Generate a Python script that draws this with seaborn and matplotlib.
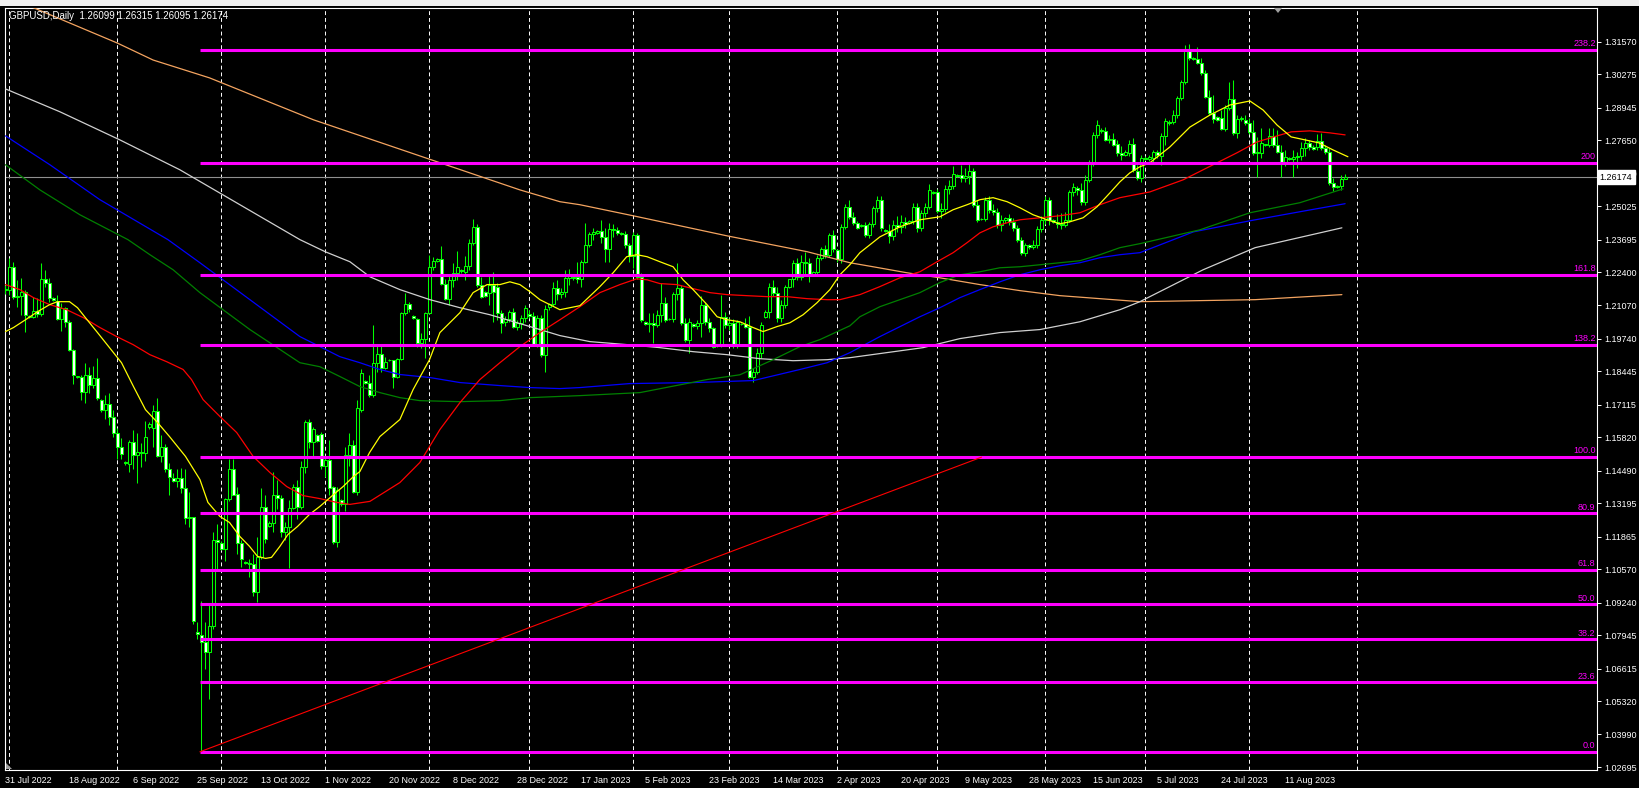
import numpy as np
import pandas as pd
import seaborn as sns
import matplotlib.pyplot as plt
from matplotlib.patches import Polygon, Rectangle

# GBPUSD daily bars, 31 Jul 2022 .. 29 Aug 2023 (broker feed with Sunday bars)
opens = [
    1.2170, 1.2170, 1.2261, 1.2142, 1.2146, 1.2162, 1.2066, 1.2062, 1.2086, 1.2074,
    1.2213, 1.2198, 1.2138, 1.2126, 1.2054, 1.2098, 1.2042, 1.1931, 1.1824, 1.1824,
    1.1764, 1.1832, 1.1792, 1.1820, 1.1732, 1.1692, 1.1716, 1.1661, 1.1601, 1.1545,
    1.1482, 1.1474, 1.1565, 1.1513, 1.1525, 1.1521, 1.1625, 1.1621, 1.1688, 1.1506,
    1.1545, 1.1454, 1.1422, 1.1410, 1.1422, 1.1382, 1.1259, 1.1263, 1.0806, 1.0794,
    1.0766, 1.0726, 1.0829, 1.1175, 1.1163, 1.1136, 1.1338, 1.1454, 1.1358, 1.1163,
    1.1084, 1.1080, 1.1076, 1.0965, 1.1104, 1.1303, 1.1227, 1.1239, 1.1354, 1.1342,
    1.1207, 1.1223, 1.1299, 1.1386, 1.1303, 1.1462, 1.1641, 1.1565, 1.1593, 1.1597,
    1.1466, 1.1490, 1.1386, 1.1167, 1.1334, 1.1315, 1.1513, 1.1553, 1.1366, 1.1692,
    1.1808, 1.1800, 1.1752, 1.1879, 1.1915, 1.1859, 1.1891, 1.1891, 1.1824, 1.1895,
    1.2078, 1.2114, 1.2066, 1.2054, 1.1959, 1.1975, 1.2078, 1.2261, 1.2285, 1.2293,
    1.2194, 1.2134, 1.2209, 1.2237, 1.2249, 1.2241, 1.2265, 1.2357, 1.2420, 1.2190,
    1.2162, 1.2158, 1.2190, 1.2182, 1.2078, 1.2042, 1.2054, 1.2082, 1.2023, 1.2038,
    1.2058, 1.2074, 1.2066, 1.1955, 1.2058, 1.1911, 1.2102, 1.2114, 1.2178, 1.2154,
    1.2162, 1.2217, 1.2217, 1.2221, 1.2213, 1.2281, 1.2349, 1.2392, 1.2396, 1.2404,
    1.2380, 1.2333, 1.2412, 1.2408, 1.2396, 1.2392, 1.2349, 1.2305, 1.2388, 1.2221,
    1.2042, 1.2034, 1.2038, 1.2030, 1.2070, 1.2118, 1.2054, 1.2054, 1.2154, 1.2178,
    1.2038, 1.1971, 1.2034, 1.2026, 1.2038, 1.2110, 1.2042, 1.2019, 1.1951, 1.1951,
    1.2062, 1.2030, 1.2038, 1.1951, 1.2034, 1.2034, 1.2023, 1.1824, 1.1844, 1.1919,
    1.2062, 1.2082, 1.2182, 1.2158, 1.2058, 1.2110, 1.2182, 1.2213, 1.2277, 1.2221,
    1.2281, 1.2277, 1.2229, 1.2241, 1.2297, 1.2333, 1.2309, 1.2388, 1.2329, 1.2293,
    1.2420, 1.2500, 1.2460, 1.2436, 1.2424, 1.2428, 1.2388, 1.2432, 1.2496, 1.2528,
    1.2408, 1.2404, 1.2384, 1.2428, 1.2420, 1.2440, 1.2436, 1.2444, 1.2500, 1.2416,
    1.2476, 1.2500, 1.2555, 1.2559, 1.2484, 1.2492, 1.2571, 1.2583, 1.2623, 1.2627,
    1.2615, 1.2623, 1.2643, 1.2508, 1.2452, 1.2452, 1.2528, 1.2488, 1.2480, 1.2428,
    1.2448, 1.2456, 1.2440, 1.2416, 1.2369, 1.2317, 1.2349, 1.2341, 1.2349, 1.2412,
    1.2448, 1.2528, 1.2448, 1.2440, 1.2432, 1.2428, 1.2448, 1.2559, 1.2575, 1.2567,
    1.2520, 1.2607, 1.2671, 1.2786, 1.2806, 1.2802, 1.2766, 1.2770, 1.2750, 1.2715,
    1.2707, 1.2715, 1.2750, 1.2643, 1.2615, 1.2694, 1.2690, 1.2694, 1.2718, 1.2703,
    1.2782, 1.2838, 1.2838, 1.2866, 1.2933, 1.2997, 1.3128, 1.3092, 1.3088, 1.3072,
    1.3033, 1.2937, 1.2874, 1.2858, 1.2854, 1.2810, 1.2893, 1.2929, 1.2794, 1.2850,
    1.2846, 1.2834, 1.2798, 1.2715, 1.2715, 1.2746, 1.2746, 1.2782, 1.2746, 1.2718,
    1.2671, 1.2694, 1.2690, 1.2699, 1.2703, 1.2734, 1.2754, 1.2738, 1.2738, 1.2762,
    1.2734, 1.2718, 1.2595, 1.2583, 1.2583, 1.26099,
]
highs = [
    1.2190, 1.2297, 1.2281, 1.2209, 1.2217, 1.2170, 1.2070, 1.2142, 1.2138, 1.2277,
    1.2249, 1.2217, 1.2142, 1.2150, 1.2118, 1.2102, 1.2050, 1.1935, 1.1828, 1.1832,
    1.1879, 1.1863, 1.1867, 1.1899, 1.1736, 1.1752, 1.1760, 1.1692, 1.1621, 1.1581,
    1.1486, 1.1573, 1.1613, 1.1601, 1.1561, 1.1645, 1.1641, 1.1712, 1.1740, 1.1593,
    1.1557, 1.1478, 1.1438, 1.1454, 1.1458, 1.1454, 1.1366, 1.1263, 1.0845, 1.0929,
    1.0845, 1.0917, 1.1207, 1.1235, 1.1168, 1.1342, 1.1494, 1.1494, 1.1386, 1.1175,
    1.1088, 1.1096, 1.1116, 1.1187, 1.1382, 1.1354, 1.1247, 1.1442, 1.1414, 1.1354,
    1.1243, 1.1334, 1.1398, 1.1414, 1.1486, 1.1649, 1.1653, 1.1625, 1.1597, 1.1605,
    1.1502, 1.1573, 1.1390, 1.1386, 1.1338, 1.1545, 1.1601, 1.1573, 1.1732, 1.1852,
    1.1812, 1.1832, 1.2030, 1.1951, 1.1951, 1.1903, 1.1895, 1.1891, 1.1899, 1.2082,
    1.2158, 1.2122, 1.2070, 1.2058, 1.1999, 1.2082, 1.2309, 1.2301, 1.2297, 1.2345,
    1.2213, 1.2229, 1.2277, 1.2325, 1.2253, 1.2305, 1.2372, 1.2452, 1.2432, 1.2222,
    1.2166, 1.2225, 1.2241, 1.2198, 1.2090, 1.2066, 1.2090, 1.2098, 1.2050, 1.2070,
    1.2110, 1.2090, 1.2082, 1.2070, 1.2070, 1.2110, 1.2118, 1.2201, 1.2209, 1.2178,
    1.2249, 1.2253, 1.2225, 1.2281, 1.2289, 1.2436, 1.2400, 1.2416, 1.2408, 1.2448,
    1.2416, 1.2436, 1.2432, 1.2420, 1.2400, 1.2404, 1.2357, 1.2400, 1.2396, 1.2237,
    1.2046, 1.2078, 1.2078, 1.2090, 1.2198, 1.2142, 1.2058, 1.2162, 1.2277, 1.2190,
    1.2058, 1.2058, 1.2038, 1.2050, 1.2146, 1.2122, 1.2058, 1.2023, 1.1955, 1.2150,
    1.2082, 1.2058, 1.2054, 1.2050, 1.2038, 1.2058, 1.2066, 1.1859, 1.1939, 1.2042,
    1.2090, 1.2198, 1.2209, 1.2182, 1.2130, 1.2190, 1.2213, 1.2289, 1.2297, 1.2309,
    1.2321, 1.2297, 1.2245, 1.2309, 1.2341, 1.2349, 1.2396, 1.2408, 1.2333, 1.2432,
    1.2512, 1.2528, 1.2480, 1.2444, 1.2432, 1.2440, 1.2440, 1.2504, 1.2544, 1.2544,
    1.2412, 1.2432, 1.2448, 1.2464, 1.2468, 1.2460, 1.2448, 1.2516, 1.2516, 1.2488,
    1.2516, 1.2591, 1.2563, 1.2571, 1.2516, 1.2587, 1.2607, 1.2663, 1.2631, 1.2667,
    1.2655, 1.2679, 1.2655, 1.2528, 1.2456, 1.2540, 1.2544, 1.2512, 1.2496, 1.2468,
    1.2460, 1.2472, 1.2456, 1.2428, 1.2380, 1.2357, 1.2353, 1.2369, 1.2424, 1.2464,
    1.2544, 1.2540, 1.2452, 1.2472, 1.2476, 1.2480, 1.2567, 1.2595, 1.2583, 1.2595,
    1.2627, 1.2687, 1.2798, 1.2846, 1.2814, 1.2818, 1.2786, 1.2794, 1.2766, 1.2742,
    1.2726, 1.2766, 1.2774, 1.2667, 1.2706, 1.2702, 1.2706, 1.2726, 1.2726, 1.2794,
    1.2854, 1.2846, 1.2886, 1.2941, 1.3005, 1.3144, 1.3148, 1.3096, 1.3136, 1.3092,
    1.3045, 1.2965, 1.2945, 1.2862, 1.2886, 1.2905, 1.2997, 1.3005, 1.2866, 1.2862,
    1.2866, 1.2854, 1.2846, 1.2778, 1.2814, 1.2750, 1.2814, 1.2814, 1.2806, 1.2746,
    1.2726, 1.2699, 1.2726, 1.2718, 1.2758, 1.2774, 1.2766, 1.2746, 1.2790, 1.2794,
    1.2746, 1.2734, 1.2615, 1.2587, 1.2627, 1.26315,
]
lows = [
    1.2154, 1.2150, 1.2134, 1.2102, 1.2070, 1.2003, 1.2058, 1.2058, 1.2062, 1.2066,
    1.2182, 1.2122, 1.2126, 1.2050, 1.2007, 1.2023, 1.1927, 1.1796, 1.1820, 1.1732,
    1.1720, 1.1760, 1.1780, 1.1732, 1.1684, 1.1653, 1.1633, 1.1585, 1.1494, 1.1494,
    1.1470, 1.1442, 1.1454, 1.1402, 1.1462, 1.1486, 1.1617, 1.1545, 1.1502, 1.1482,
    1.1442, 1.1354, 1.1406, 1.1386, 1.1362, 1.1235, 1.1223, 1.0837, 1.0778, 1.0332,
    1.0658, 1.0539, 1.0817, 1.1056, 1.1132, 1.1088, 1.1327, 1.1354, 1.1116, 1.1064,
    1.1076, 1.1024, 1.0949, 1.0925, 1.1096, 1.1163, 1.1223, 1.1207, 1.1295, 1.1187,
    1.1175, 1.1060, 1.1295, 1.1255, 1.1295, 1.1438, 1.1541, 1.1506, 1.1565, 1.1454,
    1.1426, 1.1354, 1.1156, 1.1144, 1.1307, 1.1287, 1.1466, 1.1362, 1.1354, 1.1684,
    1.1796, 1.1744, 1.1744, 1.1844, 1.1844, 1.1852, 1.1887, 1.1780, 1.1820, 1.1891,
    1.2070, 1.2082, 1.2054, 1.1943, 1.1939, 1.1899, 1.2074, 1.2249, 1.2281, 1.2190,
    1.2130, 1.2110, 1.2182, 1.2209, 1.2237, 1.2209, 1.2249, 1.2349, 1.2182, 1.2138,
    1.2142, 1.2110, 1.2042, 1.2050, 1.1999, 1.2026, 1.2042, 1.2019, 1.2011, 1.2015,
    1.2042, 1.2058, 1.1947, 1.1943, 1.1903, 1.1844, 1.2090, 1.2106, 1.2130, 1.2138,
    1.2142, 1.2190, 1.2209, 1.2198, 1.2182, 1.2277, 1.2341, 1.2369, 1.2392, 1.2357,
    1.2281, 1.2281, 1.2380, 1.2388, 1.2388, 1.2337, 1.2281, 1.2257, 1.2213, 1.2042,
    1.2030, 1.2003, 1.1959, 1.2022, 1.2042, 1.2042, 1.2050, 1.2042, 1.2130, 1.2030,
    1.1963, 1.1919, 1.2023, 1.2015, 1.1983, 1.2030, 1.2003, 1.1939, 1.1943, 1.1943,
    1.2019, 1.2011, 1.1939, 1.1939, 1.2030, 1.2019, 1.1820, 1.1804, 1.1836, 1.1899,
    1.2058, 1.2058, 1.2146, 1.2042, 1.2042, 1.2098, 1.2178, 1.2182, 1.2209, 1.2209,
    1.2229, 1.2201, 1.2225, 1.2233, 1.2289, 1.2297, 1.2301, 1.2321, 1.2281, 1.2277,
    1.2412, 1.2452, 1.2428, 1.2412, 1.2420, 1.2380, 1.2376, 1.2420, 1.2480, 1.2404,
    1.2400, 1.2357, 1.2369, 1.2400, 1.2396, 1.2416, 1.2432, 1.2432, 1.2400, 1.2404,
    1.2460, 1.2492, 1.2551, 1.2476, 1.2456, 1.2480, 1.2551, 1.2571, 1.2619, 1.2599,
    1.2599, 1.2591, 1.2500, 1.2440, 1.2448, 1.2444, 1.2476, 1.2468, 1.2416, 1.2404,
    1.2436, 1.2428, 1.2404, 1.2361, 1.2309, 1.2305, 1.2333, 1.2333, 1.2337, 1.2400,
    1.2432, 1.2428, 1.2436, 1.2416, 1.2412, 1.2420, 1.2440, 1.2544, 1.2547, 1.2508,
    1.2508, 1.2599, 1.2663, 1.2774, 1.2794, 1.2762, 1.2754, 1.2742, 1.2703, 1.2687,
    1.2703, 1.2703, 1.2639, 1.2607, 1.2599, 1.2687, 1.2683, 1.2671, 1.2695, 1.2667,
    1.2746, 1.2826, 1.2830, 1.2854, 1.2925, 1.2989, 1.3084, 1.3084, 1.3068, 1.3025,
    1.2933, 1.2865, 1.2834, 1.2842, 1.2806, 1.2802, 1.2886, 1.2786, 1.2774, 1.2842,
    1.2826, 1.2790, 1.2707, 1.2619, 1.2695, 1.2742, 1.2738, 1.2738, 1.2715, 1.2619,
    1.2663, 1.2687, 1.2619, 1.2655, 1.2687, 1.2703, 1.2726, 1.2726, 1.2726, 1.2726,
    1.2710, 1.2587, 1.2563, 1.2575, 1.2567, 1.26095,
]
closes = [
    1.2174, 1.2261, 1.2142, 1.2146, 1.2162, 1.2070, 1.2062, 1.2086, 1.2074, 1.2213,
    1.2198, 1.2138, 1.2130, 1.2054, 1.2098, 1.2042, 1.1931, 1.1832, 1.1824, 1.1764,
    1.1832, 1.1792, 1.1820, 1.1740, 1.1692, 1.1716, 1.1661, 1.1601, 1.1545, 1.1517,
    1.1478, 1.1565, 1.1513, 1.1525, 1.1521, 1.1585, 1.1637, 1.1688, 1.1506, 1.1545,
    1.1454, 1.1426, 1.1410, 1.1422, 1.1382, 1.1259, 1.1263, 1.0849, 1.0798, 1.0766,
    1.0726, 1.0829, 1.1175, 1.1167, 1.1136, 1.1338, 1.1454, 1.1354, 1.1163, 1.1096,
    1.1080, 1.1076, 1.0965, 1.1104, 1.1303, 1.1179, 1.1239, 1.1354, 1.1342, 1.1207,
    1.1223, 1.1299, 1.1386, 1.1303, 1.1462, 1.1641, 1.1565, 1.1617, 1.1569, 1.1466,
    1.1490, 1.1382, 1.1167, 1.1374, 1.1315, 1.1513, 1.1553, 1.1366, 1.1700, 1.1840,
    1.1800, 1.1752, 1.1879, 1.1915, 1.1859, 1.1883, 1.1891, 1.1824, 1.1895, 1.2078,
    1.2114, 1.2094, 1.2058, 1.1959, 1.1975, 1.2078, 1.2261, 1.2285, 1.2293, 1.2194,
    1.2134, 1.2209, 1.2237, 1.2261, 1.2245, 1.2265, 1.2357, 1.2420, 1.2190, 1.2142,
    1.2146, 1.2190, 1.2162, 1.2078, 1.2038, 1.2054, 1.2082, 1.2023, 1.2038, 1.2058,
    1.2098, 1.2066, 1.1955, 1.2058, 1.1911, 1.2094, 1.2114, 1.2178, 1.2154, 1.2162,
    1.2217, 1.2233, 1.2221, 1.2213, 1.2281, 1.2349, 1.2392, 1.2400, 1.2404, 1.2380,
    1.2333, 1.2412, 1.2408, 1.2396, 1.2392, 1.2349, 1.2305, 1.2388, 1.2221, 1.2050,
    1.2034, 1.2038, 1.2030, 1.2070, 1.2118, 1.2050, 1.2054, 1.2154, 1.2178, 1.2038,
    1.1971, 1.2042, 1.2026, 1.2038, 1.2110, 1.2042, 1.2019, 1.1943, 1.1951, 1.2062,
    1.2030, 1.2038, 1.1951, 1.2042, 1.2034, 1.2023, 1.1824, 1.1844, 1.1919, 1.2030,
    1.2082, 1.2182, 1.2158, 1.2058, 1.2110, 1.2182, 1.2213, 1.2277, 1.2221, 1.2281,
    1.2277, 1.2229, 1.2241, 1.2297, 1.2333, 1.2309, 1.2388, 1.2333, 1.2293, 1.2420,
    1.2500, 1.2460, 1.2436, 1.2416, 1.2428, 1.2388, 1.2432, 1.2496, 1.2528, 1.2416,
    1.2404, 1.2384, 1.2428, 1.2420, 1.2440, 1.2432, 1.2444, 1.2500, 1.2416, 1.2476,
    1.2500, 1.2567, 1.2559, 1.2484, 1.2492, 1.2571, 1.2583, 1.2631, 1.2627, 1.2615,
    1.2623, 1.2643, 1.2508, 1.2448, 1.2452, 1.2528, 1.2488, 1.2480, 1.2428, 1.2448,
    1.2456, 1.2440, 1.2416, 1.2369, 1.2317, 1.2349, 1.2341, 1.2349, 1.2412, 1.2448,
    1.2528, 1.2448, 1.2440, 1.2432, 1.2428, 1.2448, 1.2559, 1.2579, 1.2567, 1.2520,
    1.2607, 1.2671, 1.2786, 1.2826, 1.2802, 1.2766, 1.2770, 1.2746, 1.2715, 1.2707,
    1.2719, 1.2750, 1.2647, 1.2615, 1.2694, 1.2690, 1.2698, 1.2718, 1.2707, 1.2782,
    1.2842, 1.2834, 1.2866, 1.2933, 1.2997, 1.3128, 1.3092, 1.3088, 1.3072, 1.3033,
    1.2937, 1.2874, 1.2850, 1.2846, 1.2810, 1.2893, 1.2929, 1.2794, 1.2850, 1.2854,
    1.2834, 1.2798, 1.2715, 1.2719, 1.2754, 1.2750, 1.2782, 1.2746, 1.2718, 1.2671,
    1.2699, 1.2690, 1.2699, 1.2703, 1.2734, 1.2754, 1.2738, 1.2730, 1.2762, 1.2734,
    1.2718, 1.2595, 1.2579, 1.2579, 1.2611, 1.26174,
]

# moving averages, sampled off the chart as (bar, price)
ma_yellow_bar = [0, 2, 5, 8, 11, 13, 16, 18, 20, 23, 26, 29, 32, 35, 38, 41, 45, 48.6, 50.6, 53.6,
                 56, 58.6, 61, 63, 65, 66.5, 68.6, 70.6, 73, 76, 78.6, 82, 84.4, 87, 88.6, 91, 93.6,
                 98.6, 101.9, 106, 108.6, 113.6, 116.9, 120.4, 123.6, 126.1, 128.6, 131.1, 133.6,
                 136.1, 138.6, 141.1, 143.6, 148.6, 151.9, 155.3, 157.8, 160.4, 163.6, 166.9, 169.4,
                 171.9, 175.4, 177.9, 180.4, 183.6, 186.9, 189.4, 192.9, 196.1, 199.4, 202.9, 206.1,
                 208.6, 211.1, 213.6, 218.6, 223.6, 228.6, 233.6, 236.9, 240.4, 243.6, 246.9, 250.4,
                 253.6, 256.9, 260.4, 263.6, 266.1, 269.4, 272.9, 276.1, 278.6, 281.1, 283.6, 286.1,
                 291.1, 296.1, 301.1, 306.1, 311.1, 314.4, 317.9, 321.4, 324.9, 328.4, 331.9, 335.6]
ma_yellow = [1.2003, 1.2019, 1.2050, 1.2082, 1.2110, 1.2122, 1.2122, 1.2098, 1.2058, 1.1999,
             1.1939, 1.1879, 1.1784, 1.1692, 1.1641, 1.1585, 1.1506, 1.1414, 1.1323, 1.1267,
             1.1243, 1.1187, 1.1148, 1.1108, 1.1100, 1.1104, 1.1148, 1.1195, 1.1227, 1.1275,
             1.1307, 1.1354, 1.1386, 1.1426, 1.1446, 1.1521, 1.1585, 1.1653, 1.1772, 1.1891,
             1.1999, 1.2078, 1.2158, 1.2190, 1.2190, 1.2201, 1.2190, 1.2162, 1.2130, 1.2110,
             1.2090, 1.2098, 1.2106, 1.2182, 1.2237, 1.2301, 1.2309, 1.2301, 1.2281, 1.2261,
             1.2209, 1.2170, 1.2110, 1.2062, 1.2050, 1.2042, 1.2019, 1.2003, 1.2023, 1.2038,
             1.2070, 1.2118, 1.2170, 1.2229, 1.2269, 1.2317, 1.2380, 1.2420, 1.2448, 1.2460,
             1.2488, 1.2508, 1.2528, 1.2536, 1.2520, 1.2496, 1.2468, 1.2448, 1.2432, 1.2440,
             1.2456, 1.2500, 1.2555, 1.2599, 1.2635, 1.2659, 1.2675, 1.2738, 1.2817, 1.2865,
             1.2905, 1.2921, 1.2885, 1.2825, 1.2778, 1.2766, 1.2754, 1.2726, 1.2699]

ma_red_bar = [0, 3.6, 7, 11.1, 15.3, 19.5, 23.6, 27.8, 31.9, 36.1, 40.3, 44.4, 46.5, 49.4, 53.6,
              57.8, 61.9, 66.1, 70.3, 74.4, 78.6, 82.8, 86.1, 91.1, 98.6, 103.6, 108.6, 113.6,
              118.6, 123.6, 128.6, 133.6, 138.6, 143.6, 148.6, 153.6, 157.8, 160.4, 163.6, 167.8,
              171.9, 176.1, 180.4, 185.3, 190.4, 195.4, 200.4, 205.4, 208.6, 213.6, 218.6, 223.6,
              228.6, 232.9, 236.9, 240.4, 243.6, 246.9, 250.4, 253.6, 258.6, 263.6, 268.6, 273.6,
              278.6, 286.1, 294.4, 302.9, 307.9, 312.9, 317.9, 321.4, 326.1, 331.1, 334.9]
ma_red = [1.2190, 1.2170, 1.2138, 1.2110, 1.2090, 1.2058, 1.2019, 1.1983, 1.1951, 1.1911,
          1.1883, 1.1852, 1.1812, 1.1732, 1.1665, 1.1601, 1.1506, 1.1442, 1.1386, 1.1350,
          1.1338, 1.1323, 1.1315, 1.1327, 1.1402, 1.1482, 1.1613, 1.1720, 1.1812, 1.1879,
          1.1943, 1.1999, 1.2050, 1.2102, 1.2158, 1.2190, 1.2213, 1.2209, 1.2194, 1.2190,
          1.2174, 1.2158, 1.2150, 1.2146, 1.2142, 1.2142, 1.2134, 1.2130, 1.2130, 1.2150,
          1.2182, 1.2217, 1.2241, 1.2281, 1.2317, 1.2357, 1.2396, 1.2420, 1.2436, 1.2448,
          1.2456, 1.2464, 1.2476, 1.2508, 1.2536, 1.2559, 1.2607, 1.2675, 1.2715, 1.2758,
          1.2782, 1.2798, 1.2802, 1.2794, 1.2786]

ma_green_bar = [0, 8.6, 18.6, 30.6, 36.1, 41.9, 48.6, 61.1, 73.6, 78.6, 83.6, 88.6, 93.6, 98.6,
                103.6, 113.6, 123.6, 131.1, 143.6, 158.6, 175.4, 183.6, 191.9, 198.6, 203.6, 211.1,
                213.6, 218.6, 223.6, 228.6, 233.6, 238.6, 243.6, 248.6, 253.6, 258.6, 263.6, 268.6,
                273.6, 278.6, 283.6, 298.6, 311.1, 323.6, 334.4]
ma_green = [1.2667, 1.2567, 1.2468, 1.2369, 1.2309, 1.2249, 1.2158, 1.2011, 1.1879, 1.1863,
            1.1824, 1.1784, 1.1760, 1.1740, 1.1728, 1.1724, 1.1728, 1.1740, 1.1748, 1.1760,
            1.1812, 1.1831, 1.1891, 1.1943, 1.1971, 1.2026, 1.2062, 1.2102, 1.2130, 1.2158,
            1.2198, 1.2229, 1.2241, 1.2257, 1.2261, 1.2269, 1.2277, 1.2285, 1.2309, 1.2337,
            1.2353, 1.2408, 1.2476, 1.2516, 1.2571]

ma_blue_bar = [0, 11.1, 23.6, 40.6, 48.6, 61.1, 73.6, 78.6, 83.6, 88.6, 93.6, 98.6, 106.1, 113.6,
               123.6, 131.1, 138.6, 143.6, 156.1, 172, 187, 198.6, 205.4, 211.1, 218.6, 228.6,
               233.6, 238.6, 243.6, 248.6, 253.6, 258.6, 263.6, 268.6, 273.6, 278.6, 283.6, 297,
               311.1, 323.6, 334.9]
ma_blue = [1.2782, 1.2667, 1.2528, 1.2369, 1.2277, 1.2130, 1.1983, 1.1943, 1.1903, 1.1879,
           1.1852, 1.1832, 1.1820, 1.1800, 1.1788, 1.1780, 1.1776, 1.1780, 1.1796, 1.1800,
           1.1808, 1.1852, 1.1879, 1.1919, 1.1983, 1.2062, 1.2098, 1.2138, 1.2170, 1.2201,
           1.2229, 1.2249, 1.2265, 1.2277, 1.2297, 1.2309, 1.2317, 1.2400, 1.2444, 1.2480, 1.2512]

ma_white_bar = [0, 13.6, 28.6, 43.6, 58.6, 73.6, 79.9, 86.1, 91.1, 98.6, 106.1, 113.6, 121.1, 131.1,
                138.6, 146.1, 155.4, 163.6, 171.9, 180.4, 188.6, 196.9, 205.4, 211.1, 229.4, 238.6,
                248.6, 258.6, 268.6, 278.6, 283.6, 299.4, 312.4, 334.1]
ma_white = [1.2969, 1.2878, 1.2766, 1.2647, 1.2508, 1.2369, 1.2321, 1.2281, 1.2221, 1.2170,
            1.2130, 1.2098, 1.2070, 1.2023, 1.1987, 1.1963, 1.1951, 1.1939, 1.1923, 1.1911,
            1.1895, 1.1887, 1.1891, 1.1899, 1.1939, 1.1975, 1.1999, 1.2011, 1.2042, 1.2090,
            1.2122, 1.2249, 1.2337, 1.2416]

ma_orange_bar = [-3, 2.4, 27.9, 36.9, 51, 77, 128.6, 138.6, 143.6, 156.9, 180.4, 200.4, 211.1,
                 216.9, 225.4, 233.6, 243.6, 253.6, 263.6, 273.6, 283.6, 298, 312.4, 334.1]
ma_orange = [1.3363, 1.3323, 1.3152, 1.3084, 1.3013, 1.2846, 1.2567, 1.2520, 1.2508, 1.2464,
             1.2384, 1.2321, 1.2277, 1.2261, 1.2237, 1.2217, 1.2190, 1.2166, 1.2146, 1.2134,
             1.2122, 1.2126, 1.2130, 1.2150]

# fibonacci expansion drawn from the Sep 2022 low
fib_low, fib_high = 1.0330, 1.1503
fib_start_bar, fib_end_bar = 49, 244
fib_levels = [0.0, 23.6, 38.2, 50.0, 61.8, 80.9, 100.0, 138.2, 161.8, 200.0, 238.2]
fib_labels = ["0.0", "23.6", "38.2", "50.0", "61.8", "80.9", "100.0", "138.2", "161.8", "200", "238.2"]

price_ticks = [1.31570, 1.30275, 1.28945, 1.27650, 1.26320, 1.25025, 1.23695, 1.22400, 1.21070,
               1.19740, 1.18445, 1.17115, 1.15820, 1.14490, 1.13195, 1.11865, 1.10570, 1.09240,
               1.07945, 1.06615, 1.05320, 1.03990, 1.02695]
date_labels = ["31 Jul 2022", "18 Aug 2022", "6 Sep 2022", "25 Sep 2022", "13 Oct 2022",
               "1 Nov 2022", "20 Nov 2022", "8 Dec 2022", "28 Dec 2022", "17 Jan 2023",
               "5 Feb 2023", "23 Feb 2023", "14 Mar 2023", "2 Apr 2023", "20 Apr 2023",
               "9 May 2023", "28 May 2023", "15 Jun 2023", "5 Jul 2023", "24 Jul 2023",
               "11 Aug 2023"]
label_step = 16
month_start_bars = [1, 28, 54, 80, 106, 131, 157, 181, 208, 233, 260, 285, 311, 338]

W, H = 1640, 788
LIME = "#00FF00"
MAGENTA = "#FF00FF"

sns.set_style("dark", {"axes.facecolor": "black", "figure.facecolor": "black"})
plt.rcParams["font.family"] = ["Liberation Sans", "DejaVu Sans"]

fig = plt.figure(figsize=(W / 100, H / 100), dpi=100)
fig.patch.set_facecolor("black")
ax = fig.add_axes([5 / W, 18 / H, 1592 / W, 762.5 / H])
ax.set_facecolor("black")
ax.set_xlim(-0.125, 397.875)
ax.set_ylim(1.02576, 1.32931)

df = pd.DataFrame({"open": opens, "high": highs, "low": lows, "close": closes})
df["bar"] = np.arange(len(df))
df["bull"] = df["close"] >= df["open"]
df["body_lo"] = df[["open", "close"]].min(axis=1)
df["body_h"] = (df["close"] - df["open"]).abs().clip(lower=0.00004)

# month grid
for b in month_start_bars:
    ax.axvline(b - 0.05, color="white", lw=0.7, ls=(0, (4, 3)), zorder=1)

# last price line
last = closes[-1]
ax.axhline(last, color="#909090", lw=0.8, zorder=1.5)

# candles
ax.vlines(df["bar"], df["low"], df["high"], color=LIME, lw=0.75, zorder=3)
ax.bar(df["bar"], df["body_h"], bottom=df["body_lo"], width=0.62,
       color=np.where(df["bull"], "black", "white"), edgecolor=LIME, linewidth=0.75, zorder=4)

# moving averages
for xs, ys, col in [(ma_orange_bar, ma_orange, "#F4A460"),
                    (ma_white_bar, ma_white, "#D0D0D0"),
                    (ma_blue_bar, ma_blue, "#0000FF"),
                    (ma_green_bar, ma_green, "#008000"),
                    (ma_red_bar, ma_red, "#FF0000"),
                    (ma_yellow_bar, ma_yellow, "#FFFF00")]:
    sns.lineplot(x=xs, y=ys, ax=ax, color=col, lw=0.9, zorder=5, sort=False)

# fibonacci levels
fib_prices = [fib_low + (fib_high - fib_low) * lv / 100 for lv in fib_levels]
ax.hlines(fib_prices, fib_start_bar - 0.4, 397.875, color=MAGENTA, lw=2.2, zorder=6)
ax.plot([fib_start_bar - 0.4, fib_end_bar], [fib_low, fib_high], color="#FF0000", lw=0.8, zorder=6)
for p, lab in zip(fib_prices, fib_labels):
    ax.annotate(lab, xy=(1, p), xycoords=("axes fraction", "data"), xytext=(-1, 1.2),
                textcoords="offset points", ha="right", va="bottom", color=MAGENTA,
                fontsize=6.5, zorder=7)

# axes styling
for s in ax.spines.values():
    s.set_color("white")
    s.set_linewidth(0.8)
ax.yaxis.tick_right()
ax.set_yticks(price_ticks)
ax.set_yticklabels([f"{t:.5f}" for t in price_ticks])
ax.tick_params(axis="y", colors="white", labelsize=6.5, length=3, width=0.7, pad=2, right=True, left=False)
ax.set_xticks(np.arange(len(date_labels)) * label_step)
ax.set_xticklabels(date_labels)
for t in ax.get_xticklabels():
    t.set_ha("left")
ax.tick_params(axis="x", colors="white", labelsize=6.5, length=3, width=0.7, pad=1.5)
ax.set_xlabel("")
ax.set_ylabel("")
ax.grid(False)

ax.annotate(f"{last:.5f}", xy=(1, last), xycoords=("axes fraction", "data"), xytext=(2, 0),
            textcoords="offset points", ha="left", va="center", color="black", fontsize=6.5,
            bbox=dict(boxstyle="square,pad=0.25", fc="white", ec="white"), annotation_clip=False, zorder=10)

fig.text(9 / W, 1 - 16 / H,
         f"GBPUSD,Daily  {opens[-1]:.5f} {highs[-1]:.5f} {lows[-1]:.5f} {closes[-1]:.5f}",
         color="white", fontsize=7, va="center", ha="left")

# window chrome: top strip and the chart-shift / scale markers
fig.patches.append(Rectangle((0, 1 - 6 / H), 1, 6 / H, transform=fig.transFigure,
                             fc="#F0F0F0", ec="none", zorder=0))
fig.patches.append(Polygon([(1274 / W, 1 - 8 / H), (1282 / W, 1 - 8 / H), (1278 / W, 1 - 13 / H)],
                           closed=True, transform=fig.transFigure, fc="#A0A0A0", ec="none"))
fig.patches.append(Polygon([(6 / W, 1 - 763 / H), (6 / W, 1 - 769 / H), (12 / W, 1 - 769 / H)],
                           closed=True, transform=fig.transFigure, fc="#A0A0A0", ec="none"))

fig.savefig("out.png", dpi=100, facecolor="black")
